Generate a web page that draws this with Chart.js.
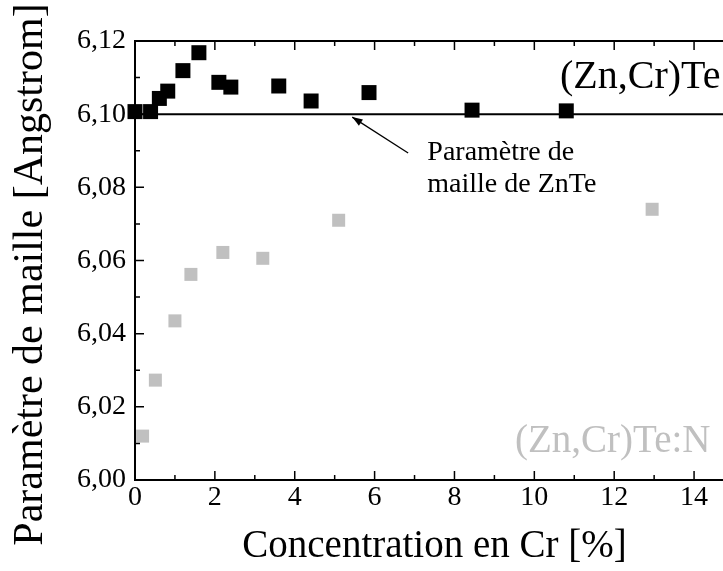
<!DOCTYPE html>
<html>
<head>
<meta charset="utf-8">
<script src="https://cdn.jsdelivr.net/npm/chart.js@4/dist/chart.umd.min.js"></script>
<style>
  html, body { margin: 0; padding: 0; overflow: hidden; background: #fff; }
</style>
</head>
<body>
<canvas id="c" width="760" height="571"></canvas>
<script>
// (Zn,Cr)Te samples
const crX = [0, 0.39, 0.61, 0.82, 1.2, 1.6, 2.1, 2.4, 3.6, 4.41, 5.86, 8.44, 10.8];
const crY = [6.1007, 6.1007, 6.1043, 6.1063, 6.1119, 6.1168, 6.1087, 6.1074, 6.1077, 6.1036, 6.1059, 6.1011, 6.1009];
// (Zn,Cr)Te:N samples
const crNX = [0.19, 0.51, 1.0, 1.4, 2.2, 3.2, 5.1, 12.95];
const crNY = [6.0120, 6.0273, 6.0435, 6.0562, 6.0622, 6.0606, 6.0710, 6.0740];
// ZnTe lattice parameter
const refX = [0, 15];
const refY = [6.10, 6.10];

const serif = "'Liberation Serif', 'Times New Roman', serif";
const toPts = (xs, ys) => xs.map((x, i) => ({ x: x, y: ys[i] }));

const frame = {
  id: 'frame',
  afterDraw(chart) {
    const { ctx, chartArea: a, scales: { x, y } } = chart;
    ctx.save();
    ctx.strokeStyle = '#000';
    ctx.lineWidth = 2;
    ctx.strokeRect(a.left, a.top, a.right - a.left, a.bottom - a.top);
    ctx.lineWidth = 1.5;
    ctx.beginPath();
    for (let v = 0; v <= 15; v++) {
      const px = x.getPixelForValue(v);
      const len = v % 2 === 0 ? 9 : 5;
      ctx.moveTo(px, a.bottom); ctx.lineTo(px, a.bottom - len);
      ctx.moveTo(px, a.top); ctx.lineTo(px, a.top + len);
    }
    for (let k = 0; k <= 12; k++) {
      const py = y.getPixelForValue(6 + k * 0.01);
      const len = k % 2 === 0 ? 9 : 5;
      ctx.moveTo(a.left, py); ctx.lineTo(a.left + len, py);
      ctx.moveTo(a.right, py); ctx.lineTo(a.right - len, py);
    }
    ctx.stroke();

    // y axis title, a bit below the axis centre like the original
    ctx.fillStyle = '#000';
    ctx.save();
    ctx.translate(31, (a.top + a.bottom) / 2 + 14);
    ctx.rotate(-Math.PI / 2);
    ctx.font = '42px ' + serif;
    ctx.textAlign = 'center';
    ctx.textBaseline = 'middle';
    ctx.fillText('Paramètre de maille [Angstrom]', 0, 0);
    ctx.restore();

    // series labels
    ctx.font = '40px ' + serif;
    ctx.textAlign = 'right';
    ctx.textBaseline = 'alphabetic';
    ctx.fillText('(Zn,Cr)Te', x.getPixelForValue(14.66), y.getPixelForValue(6.1072));
    ctx.fillStyle = '#c0c0c0';
    ctx.font = '39px ' + serif;
    ctx.fillText('(Zn,Cr)Te:N', x.getPixelForValue(14.41), y.getPixelForValue(6.0077));

    ctx.fillStyle = '#000';
    ctx.font = '28px ' + serif;
    ctx.textAlign = 'left';
    ctx.fillText('Paramètre de', x.getPixelForValue(7.32), y.getPixelForValue(6.0875));
    ctx.fillText('maille de ZnTe', x.getPixelForValue(7.32), y.getPixelForValue(6.0787));

    // arrow
    const x0 = x.getPixelForValue(6.84), y0 = y.getPixelForValue(6.0894);
    const x1 = x.getPixelForValue(5.44), y1 = y.getPixelForValue(6.0992);
    ctx.lineWidth = 1.3;
    ctx.beginPath();
    ctx.moveTo(x0, y0); ctx.lineTo(x1, y1);
    ctx.stroke();
    const ang = Math.atan2(y1 - y0, x1 - x0);
    ctx.beginPath();
    ctx.moveTo(x1, y1);
    ctx.lineTo(x1 - 11 * Math.cos(ang - 0.35), y1 - 11 * Math.sin(ang - 0.35));
    ctx.lineTo(x1 - 11 * Math.cos(ang + 0.35), y1 - 11 * Math.sin(ang + 0.35));
    ctx.closePath();
    ctx.fill();
    ctx.restore();
  }
};

new Chart(document.getElementById('c'), {
  type: 'scatter',
  data: {
    datasets: [
      {
        label: 'ZnTe',
        type: 'line',
        data: toPts(refX, refY),
        borderColor: '#000',
        borderWidth: 2,
        pointRadius: 0,
        order: 3
      },
      {
        label: '(Zn,Cr)Te:N',
        data: toPts(crNX, crNY),
        pointStyle: 'rect',
        pointRadius: 9.2,
        pointBorderWidth: 0,
        backgroundColor: '#c0c0c0',
        borderColor: '#c0c0c0',
        clip: false,
        order: 2
      },
      {
        label: '(Zn,Cr)Te',
        data: toPts(crX, crY),
        pointStyle: 'rect',
        pointRadius: 10.6,
        pointBorderWidth: 0,
        backgroundColor: '#000',
        borderColor: '#000',
        clip: false,
        order: 1
      }
    ]
  },
  options: {
    responsive: false,
    animation: false,
    layout: { padding: { top: 41, right: 26, left: 0, bottom: 0 } },
    plugins: { legend: { display: false }, tooltip: { enabled: false } },
    scales: {
      x: {
        type: 'linear',
        min: 0,
        max: 15,
        grid: { display: false, drawTicks: false },
        border: { display: false },
        ticks: {
          stepSize: 2,
          includeBounds: false,
          padding: 1,
          color: '#000',
          font: { family: serif, size: 28 },
          maxRotation: 0
        },
        title: {
          display: true,
          text: 'Concentration en Cr [%]',
          color: '#000',
          font: { family: serif, size: 39 },
          padding: { top: 0, bottom: 1 }
        },
        afterFit: (s) => { s.height = 91; }
      },
      y: {
        type: 'linear',
        min: 6.00,
        max: 6.12,
        grid: { display: false, drawTicks: false },
        border: { display: false },
        ticks: {
          stepSize: 0.02,
          padding: 9,
          color: '#000',
          font: { family: serif, size: 28 },
          callback: (v) => v.toFixed(2).replace('.', ',')
        },
        title: { display: false },
        afterFit: (s) => { s.width = 135; }
      }
    }
  },
  plugins: [frame]
});
</script>
</body>
</html>
